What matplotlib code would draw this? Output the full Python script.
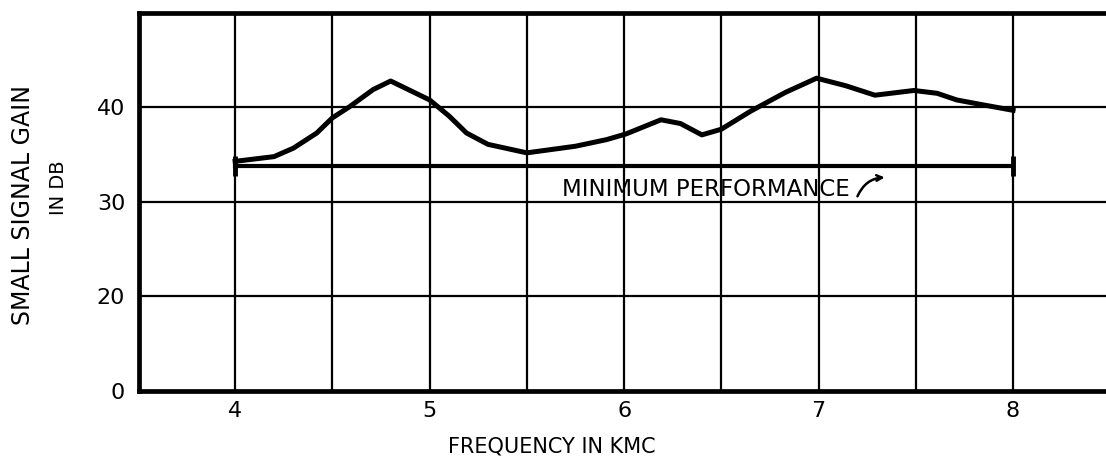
import matplotlib
matplotlib.use("Agg")
import matplotlib.pyplot as plt

# gain curve (frequency in KMC, gain in dB)
freq = [4.0, 4.2, 4.3, 4.42, 4.5, 4.59, 4.71, 4.8, 4.91, 5.0, 5.1, 5.19, 5.3, 5.5,
        5.75, 5.91, 6.01, 6.19, 6.29, 6.4, 6.5, 6.65, 6.83, 6.99, 7.14, 7.29,
        7.49, 7.61, 7.71, 7.84, 8.0]
gain = [34.3, 34.8, 35.7, 37.3, 38.9, 40.1, 41.9, 42.8, 41.7, 40.8, 39.1, 37.3, 36.1, 35.2,
        35.9, 36.6, 37.2, 38.7, 38.3, 37.1, 37.7, 39.6, 41.6, 43.1, 42.3, 41.3,
        41.8, 41.5, 40.8, 40.3, 39.7]

min_freq = [4.0, 8.0]
min_gain = [33.8, 33.8]

x_ticks = [4, 5, 6, 7, 8]
x_grid = [4, 4.5, 5, 5.5, 6, 6.5, 7, 7.5, 8, 8.5]
# the axis is broken: the bottom line is "0", then 20, 30, 40
y_ticks = [10, 20, 30, 40]
y_labels = ["0", "20", "30", "40"]

fig = plt.figure(figsize=(11.06, 4.72), dpi=100)
ax = fig.add_axes([0.1257, 0.1716, 0.8743, 0.8009])
ax.set_xlim(3.506, 8.478)
ax.set_ylim(10, 50)

for x in x_grid:
    ax.axvline(x, color="black", lw=1.6, zorder=1)
for y in [20, 30, 40]:
    ax.axhline(y, color="black", lw=1.6, zorder=1)

ax.plot(freq, gain, color="black", lw=3.6, solid_joinstyle="round", zorder=3)
ax.plot(min_freq, min_gain, color="black", lw=3.0, marker="|", ms=14, mew=3.5, zorder=3)

ax.text(7.16, 30.6, "MINIMUM PERFORMANCE", fontsize=16.5, ha="right", va="baseline")
ax.annotate("", xy=(7.34, 32.6), xytext=(7.2, 30.6),
            arrowprops=dict(arrowstyle="->", color="black", lw=1.8,
                            connectionstyle="arc3,rad=-0.3", shrinkA=0, shrinkB=0))

for side in ["left", "bottom", "top"]:
    ax.spines[side].set_linewidth(3.4)
    ax.spines[side].set_color("black")
ax.spines["right"].set_visible(False)

ax.set_xticks(x_ticks)
ax.set_xticklabels([str(t) for t in x_ticks])
ax.set_yticks(y_ticks)
ax.set_yticklabels(y_labels)
ax.tick_params(length=0, labelsize=16, pad=10)
ax.tick_params(axis="x", pad=7)

ax.set_xlabel("FREQUENCY IN KMC", fontsize=15, va="center")
ax.xaxis.set_label_coords(0.427, -0.148)
fig.text(0.021, 0.566, "SMALL SIGNAL GAIN", rotation=90, fontsize=17,
         ha="center", va="center")
fig.text(0.053, 0.602, "IN DB", rotation=90, fontsize=14,
         ha="center", va="center")

fig.savefig("out.png", dpi=100, facecolor="white")
